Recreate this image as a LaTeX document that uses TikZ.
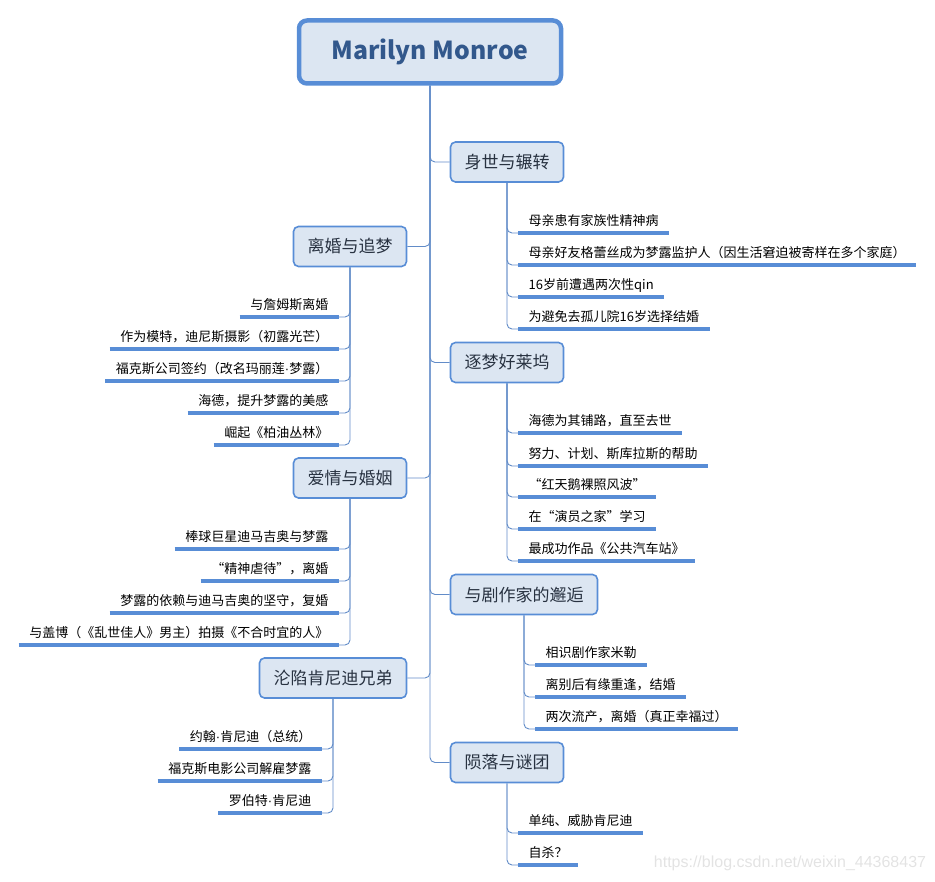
\documentclass[tikz,border=0pt]{standalone}
\usepackage{fontspec}
\setmainfont{Noto Sans CJK SC}
\newfontfamily\wmfont{Liberation Sans}
\usetikzlibrary{backgrounds}
\definecolor{mmBlue}{RGB}{88,141,214}
\definecolor{mmFill}{RGB}{220,230,242}
\definecolor{mmLine}{RGB}{98,140,200}
\definecolor{mmTitle}{RGB}{50,88,140}
\definecolor{mmText}{RGB}{40,50,65}
\newcommand{\mdot}{{\wmfont ·}}

\begin{document}
\begin{tikzpicture}[
  x=1pt, y=-1pt,
  root/.style={
    draw=mmBlue, fill=mmFill, line width=4.5pt, rounded corners=8pt,
    minimum width=262pt, minimum height=63pt, text=mmTitle,
    font=\fontsize{24.8pt}{30pt}\selectfont\bfseries
  },
  topic/.style={
    draw=mmBlue, fill=mmFill, line width=1.6pt, rounded corners=5pt,
    minimum height=40pt, inner xsep=14pt, text=mmText,
    font=\fontsize{17pt}{20pt}\selectfont
  },
  uline/.style={draw=mmBlue, line width=3.2pt},
  item/.style={
    inner xsep=10.5pt, inner ysep=4pt, text height=10pt, text depth=3pt,
    font=\fontsize{13pt}{15pt}\selectfont,
    append after command={(\tikzlastnode.south west) edge[uline] (\tikzlastnode.south east)}
  },
  ritem/.style={item, anchor=south west},
  litem/.style={item, anchor=south east},
  conn/.style={draw=mmLine, line width=0.9pt, rounded corners=5pt}
]
\useasboundingbox (0,0) rectangle (935,882);

% central topic
\node[root] (root) at (430,52) {Marilyn Monroe};

% main topics
\node[topic] (tOrigin)  at (507,162)   {身世与辗转};
\node[topic] (tDivorce) at (350,246.5) {离婚与追梦};
\node[topic] (tHolly)   at (507,362.5) {逐梦好莱坞};
\node[topic] (tLove)    at (350,478)   {爱情与婚姻};
\node[topic] (tMiller)  at (524,594.5) {与剧作家的邂逅};
\node[topic] (tKennedy) at (333,678)   {沦陷肯尼迪兄弟};
\node[topic] (tFall)    at (507,762.5) {陨落与谜团};

% 身世与辗转
\node[ritem] (o1) at (518,233) {母亲患有家族性精神病};
\node[ritem] (o2) at (518,265) {母亲好友格蕾丝成为梦露监护人（因生活窘迫被寄样在多个家庭）};
\node[ritem] (o3) at (518,297) {16岁前遭遇两次性qin};
\node[ritem] (o4) at (518,329) {为避免去孤儿院16岁选择结婚};

% 离婚与追梦
\node[litem] (d1) at (339,317) {与詹姆斯离婚};
\node[litem] (d2) at (339,349) {作为模特，迪尼斯摄影（初露光芒）};
\node[litem] (d3) at (339,381) {福克斯公司签约（改名玛丽莲\mdot 梦露）};
\node[litem] (d4) at (339,413) {海德，提升梦露的美感};
\node[litem] (d5) at (339,445) {崛起《柏油丛林》};

% 逐梦好莱坞
\node[ritem] (h1) at (518,433) {海德为其铺路，直至去世};
\node[ritem] (h2) at (518,466) {努力、计划、斯库拉斯的帮助};
\node[ritem] (h3) at (518,497) {“红天鹅裸照风波”};
\node[ritem] (h4) at (518,529) {在“演员之家”学习};
\node[ritem] (h5) at (518,561) {最成功作品《公共汽车站》};

% 爱情与婚姻
\node[litem] (l1) at (339,549) {棒球巨星迪马吉奥与梦露};
\node[litem] (l2) at (339,581) {“精神虐待”，离婚};
\node[litem] (l3) at (339,613) {梦露的依赖与迪马吉奥的坚守，复婚};
\node[litem] (l4) at (339,645) {与盖博（《乱世佳人》男主）拍摄《不合时宜的人》};

% 与剧作家的邂逅
\node[ritem] (m1) at (535,665) {相识剧作家米勒};
\node[ritem] (m2) at (535,697) {离别后有缘重逢，结婚};
\node[ritem] (m3) at (535,729) {两次流产，离婚（真正幸福过）};

% 沦陷肯尼迪兄弟
\node[litem] (k1) at (322,749) {约翰\mdot 肯尼迪（总统）};
\node[litem] (k2) at (322,781) {福克斯电影公司解雇梦露};
\node[litem] (k3) at (322,813) {罗伯特\mdot 肯尼迪};

% 陨落与谜团
\node[ritem] (f1) at (518,833) {单纯、威胁肯尼迪};
\node[ritem] (f2) at (518,865) {自杀？};

\node[font=\wmfont\fontsize{16pt}{18pt}\selectfont, text=gray!22] (wm) at (790,863)
  {https://blog.csdn.net/weixin\_44368437};

\begin{scope}[on background layer]
  \foreach \t in {tOrigin,tHolly,tMiller,tFall}
    \draw[conn] (root.south) |- (\t.west);
  \foreach \t in {tDivorce,tLove,tKennedy}
    \draw[conn] (root.south) |- (\t.east);
  \foreach \i in {o1,o2,o3,o4}
    \draw[conn] (tOrigin.south) |- (\i.south west);
  \foreach \i in {h1,h2,h3,h4,h5}
    \draw[conn] (tHolly.south) |- (\i.south west);
  \foreach \i in {m1,m2,m3}
    \draw[conn] (tMiller.south) |- (\i.south west);
  \foreach \i in {f1,f2}
    \draw[conn] (tFall.south) |- (\i.south west);
  \foreach \i in {d1,d2,d3,d4,d5}
    \draw[conn] (tDivorce.south) |- (\i.south east);
  \foreach \i in {l1,l2,l3,l4}
    \draw[conn] (tLove.south) |- (\i.south east);
  \foreach \i in {k1,k2,k3}
    \draw[conn] (tKennedy.south) |- (\i.south east);
\end{scope}

\end{tikzpicture}
\end{document}
